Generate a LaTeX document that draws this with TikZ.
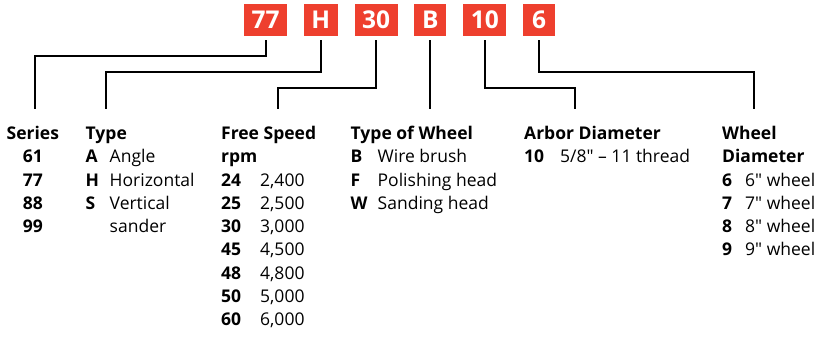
\documentclass[tikz,border=0pt]{standalone}
\usepackage{fontspec}
\setmainfont{Open Sans}
\usetikzlibrary{positioning}
\definecolor{codered}{HTML}{EE3F2E}

\begin{document}
\begin{tikzpicture}[
  x=1pt, y=-1pt,
  %% red code boxes
  code/.style={
    rectangle, fill=codered, text=white,
    font=\fontsize{24.5}{24.5}\selectfont\bfseries,
    minimum width=32pt, minimum height=32pt,
    inner xsep=7.5pt, inner ysep=0pt,
    text height=17.5pt, text depth=0pt
  },
  %% legend columns
  col/.style={anchor=base west, inner sep=0pt,
    font=\fontsize{17.5}{23.3}\selectfont},
  %% connectors
  link/.style={line width=2pt, shorten <=4pt}
]
\useasboundingbox (0,0) rectangle (817,339);

%% ================================================================
%% MODEL CODE
%% ================================================================
\node[code] (b77) at (265.5,20) {77};
\node[code, right=16.5pt of b77] (bH) {H};
\node[code, right=16.5pt of bH] (b30) {30};
\node[code, right=16.5pt of b30] (bB) {B};
\node[code, right=16.5pt of bB] (b10) {10};
\node[code, right=16.5pt of b10] (b6) {6};

%% ================================================================
%% LEGEND COLUMNS
%% ================================================================
\node[col] (series) at (6.5,139.5) {%
  \begin{tabular}[t]{@{}c@{}}
    \textbf{Series}\\ \textbf{61}\\ \textbf{77}\\ \textbf{88}\\ \textbf{99}
  \end{tabular}};

\node[col] (type) at (85.5,139.5) {%
  \begin{tabular}[t]{@{}p{24pt}@{}l@{}}
    \multicolumn{2}{@{}l@{}}{\textbf{Type}}\\
    \textbf{A} & Angle\\
    \textbf{H} & Horizontal\\
    \textbf{S} & Vertical\\
               & sander
  \end{tabular}};

\node[col] (speed) at (221,139.5) {%
  \begin{tabular}[t]{@{}p{39pt}@{}l@{}}
    \multicolumn{2}{@{}l@{}}{\textbf{Free Speed}}\\
    \multicolumn{2}{@{}l@{}}{\textbf{rpm}}\\
    \textbf{24} & 2,400\\
    \textbf{25} & 2,500\\
    \textbf{30} & 3,000\\
    \textbf{45} & 4,500\\
    \textbf{48} & 4,800\\
    \textbf{50} & 5,000\\
    \textbf{60} & 6,000
  \end{tabular}};

\node[col] (wheel) at (350.5,139.5) {%
  \begin{tabular}[t]{@{}p{27pt}@{}l@{}}
    \multicolumn{2}{@{}l@{}}{\textbf{Type of Wheel}}\\
    \textbf{B} & Wire brush\\
    \textbf{F} & Polishing head\\
    \textbf{W} & Sanding head
  \end{tabular}};

\node[col] (arbor) at (524,139.5) {%
  \begin{tabular}[t]{@{}p{36pt}@{}l@{}}
    \multicolumn{2}{@{}l@{}}{\textbf{Arbor Diameter}}\\
    \textbf{10} & 5/8\textquotedbl{} -- 11 thread
  \end{tabular}};

\node[col] (diam) at (722,139.5) {%
  \begin{tabular}[t]{@{}p{23pt}@{}l@{}}
    \multicolumn{2}{@{}l@{}}{\textbf{Wheel}}\\
    \multicolumn{2}{@{}l@{}}{\textbf{Diameter}}\\
    \textbf{6} & 6\textquotedbl{} wheel\\
    \textbf{7} & 7\textquotedbl{} wheel\\
    \textbf{8} & 8\textquotedbl{} wheel\\
    \textbf{9} & 9\textquotedbl{} wheel
  \end{tabular}};

%% ================================================================
%% CONNECTORS
%% ================================================================
\coordinate (tSeries) at (35,109);
\coordinate (tType)   at (106,109);
\coordinate (tSpeed)  at (278,109);
\coordinate (tWheel)  at (428,109);
\coordinate (tArbor)  at (575,109);
\coordinate (tDiam)   at (754,109);

\draw[link] (b77.south) -- ++(0,20) -| (tSeries);
\draw[link] (bH.south)  -- ++(0,36) -| (tType);
\draw[link] (b30.south) -- ++(0,52) -| (tSpeed);
\draw[link] (bB.south)  -- (bB.south |- tWheel);
\draw[link] (b10.south) -- ++(0,52) -| (tArbor);
\draw[link] (b6.south)  -- ++(0,36) -| (tDiam);

\end{tikzpicture}
\end{document}
